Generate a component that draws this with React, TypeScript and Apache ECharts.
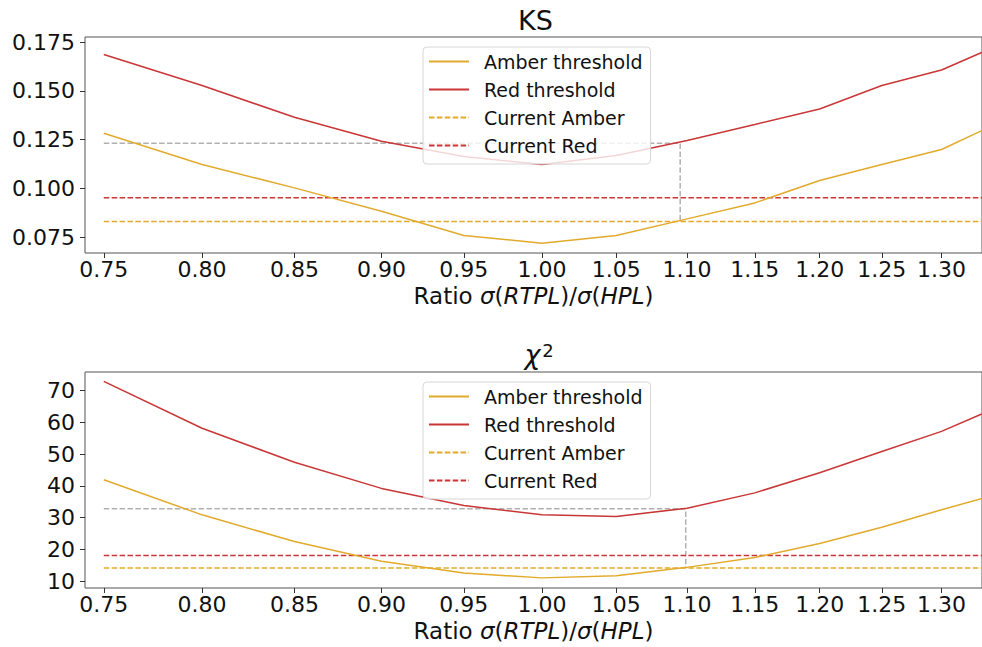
import React, { useEffect, useRef } from "react";
import * as echarts from "echarts";

// ---- data ----
const ratios = [0.75, 0.8, 0.85, 0.9, 0.95, 1.0, 1.05, 1.1, 1.15, 1.2, 1.25, 1.3, 1.35];

const ksAmber = [0.1282, 0.1122, 0.1002, 0.0882, 0.0758, 0.0718, 0.0758, 0.0843, 0.0925, 0.104, 0.1122, 0.1199, 0.1337];
const ksRed = [0.1686, 0.1527, 0.1364, 0.1241, 0.1163, 0.1122, 0.1168, 0.1245, 0.1327, 0.1407, 0.1527, 0.1607, 0.1735];
const ksCurrentAmber = 0.083;
const ksCurrentRed = 0.0951;
const ksGuideX = [0.75, 1.095, 1.095];
const ksGuideY = [0.1231, 0.1231, 0.083];

const chiAmber = [41.9, 30.9, 22.5, 16.3, 12.6, 11.1, 11.8, 14.4, 17.5, 21.9, 27.0, 32.5, 37.5];
const chiRed = [72.8, 58.1, 47.4, 39.2, 33.8, 30.9, 30.4, 33.0, 37.8, 44.1, 50.8, 57.1, 64.9];
const chiCurrentAmber = 14.2;
const chiCurrentRed = 18.1;
const chiGuideX = [0.75, 1.099, 1.099];
const chiGuideY = [32.8, 32.8, 14.2];

const xTicks = [0.75, 0.8, 0.85, 0.9, 0.95, 1.0, 1.05, 1.1, 1.15, 1.2, 1.25, 1.3];
const ksTicks = [0.075, 0.1, 0.125, 0.15, 0.175];
const chiTicks = [10, 20, 30, 40, 50, 60, 70];
const xRange = [0.7408, 1.335];
const ksRange = [0.0668, 0.1776];
const chiRange = [7.92, 75.76];

const legendNames = ["Amber threshold", "Red threshold", "Current Amber", "Current Red"];

// ---- styles ----
const FONT = "DejaVu Sans";
const TXT = "#111";
const AMBER = "#E2AA2C";
const RED = "#C93636";
const GUIDE = "#B0B0B0";
const DASH = [5.5, 2.4];

const toPts = (xs: number[], ys: number[]) => xs.map((x, i) => [Math.log(x), ys[i]]);

const axisNameRich = {
  n: { fontSize: 23, fontFamily: FONT, color: TXT },
  i: { fontSize: 23, fontFamily: FONT, color: TXT, fontStyle: "italic" },
};

function makeXAxis(gridIndex: number) {
  const tv = xTicks.map((t) => Math.log(t));
  return {
    type: "value",
    gridIndex,
    min: Math.log(xRange[0]),
    max: Math.log(xRange[1]),
    axisLine: { show: false, onZero: false },
    axisTick: { show: true, customValues: tv, length: 5, lineStyle: { color: "#333", width: 1 } },
    axisLabel: {
      show: true,
      customValues: tv,
      formatter: (v: number) => Math.exp(v).toFixed(2),
      fontSize: 22,
      fontFamily: FONT,
      color: TXT,
      margin: 5,
    },
    splitLine: { show: false },
    name: "{n|Ratio }{i|σ}{n|(}{i|RTPL}{n|)/}{i|σ}{n|(}{i|HPL}{n|)}",
    nameLocation: "middle",
    nameGap: 31,
    nameTextStyle: { fontSize: 23, fontFamily: FONT, color: TXT, rich: axisNameRich },
  };
}

function makeYAxis(gridIndex: number, range: number[], ticks: number[], digits: number) {
  return {
    type: "value",
    gridIndex,
    min: range[0],
    max: range[1],
    axisLine: { show: false, onZero: false },
    axisTick: { show: true, customValues: ticks, length: 5, lineStyle: { color: "#333", width: 1 } },
    axisLabel: {
      show: true,
      customValues: ticks,
      formatter: (v: number) => v.toFixed(digits),
      fontSize: 22,
      fontFamily: FONT,
      color: TXT,
      margin: 10,
    },
    splitLine: { show: false },
  };
}

function makeSeries(
  k: number,
  amber: number[],
  red: number[],
  curA: number,
  curR: number,
  gx: number[],
  gy: number[]
) {
  const base = {
    type: "line",
    xAxisIndex: k,
    yAxisIndex: k,
    symbol: "none",
    showSymbol: false,
    silent: true,
    animation: false,
    clip: true,
  };
  const ends = [ratios[0], ratios[ratios.length - 1]];
  return [
    { ...base, name: "guide" + k, data: toPts(gx, gy), color: GUIDE, lineStyle: { color: GUIDE, width: 1.5, type: DASH }, z: 1 },
    { ...base, name: "Amber threshold", data: toPts(ratios, amber), color: AMBER, lineStyle: { color: AMBER, width: 1.5 }, z: 3 },
    { ...base, name: "Red threshold", data: toPts(ratios, red), color: RED, lineStyle: { color: RED, width: 1.5 }, z: 3 },
    { ...base, name: "Current Amber", data: toPts(ends, [curA, curA]), color: AMBER, lineStyle: { color: AMBER, width: 1.5, type: DASH }, z: 2 },
    { ...base, name: "Current Red", data: toPts(ends, [curR, curR]), color: RED, lineStyle: { color: RED, width: 1.5, type: DASH }, z: 2 },
  ];
}

function makeLegend(top: number) {
  return {
    data: legendNames,
    orient: "vertical",
    left: 423,
    top,
    itemWidth: 40,
    itemHeight: 18,
    itemGap: 9,
    padding: [5, 8, 9, 5],
    backgroundColor: "rgba(255,255,255,0.8)",
    borderColor: "#d6d6d6",
    borderWidth: 1,
    borderRadius: 4,
    selectedMode: false,
    itemStyle: { opacity: 0 },
    textStyle: { fontSize: 19, fontFamily: FONT, color: TXT, padding: [0, 0, 0, 10] },
    z: 10,
  };
}

const gridStyle = { show: true, borderColor: "#555", borderWidth: 1, backgroundColor: "transparent" };

const option = {
  animation: false,
  backgroundColor: "#fff",
  grid: [
    { left: 85, top: 37, right: -7, height: 216, ...gridStyle },
    { left: 85, top: 372, right: -7, height: 216, ...gridStyle },
  ],
  xAxis: [makeXAxis(0), makeXAxis(1)],
  yAxis: [makeYAxis(0, ksRange, ksTicks, 3), makeYAxis(1, chiRange, chiTicks, 0)],
  legend: [makeLegend(47), makeLegend(382)],
  series: [
    ...makeSeries(0, ksAmber, ksRed, ksCurrentAmber, ksCurrentRed, ksGuideX, ksGuideY),
    ...makeSeries(1, chiAmber, chiRed, chiCurrentAmber, chiCurrentRed, chiGuideX, chiGuideY),
  ],
  graphic: [
    {
      type: "text",
      x: 535.5,
      y: 20,
      style: { text: "KS", fontSize: 27, fontFamily: FONT, fill: TXT, align: "center", verticalAlign: "middle" },
    },
    {
      type: "text",
      x: 532.5,
      y: 354,
      style: { text: "χ", fontSize: 27, fontStyle: "italic", fontFamily: FONT, fill: TXT, align: "center", verticalAlign: "middle" },
    },
    {
      type: "text",
      x: 548,
      y: 350.5,
      style: { text: "2", fontSize: 18, fontFamily: FONT, fill: TXT, align: "center", verticalAlign: "middle" },
    },
  ],
};

export default function App() {
  const ref = useRef<HTMLDivElement>(null);
  useEffect(() => {
    if (!ref.current) return;
    const chart = echarts.init(ref.current, null, { renderer: "svg" });
    chart.setOption(option as any);
    return () => chart.dispose();
  }, []);
  return (
    <div
      ref={ref}
      style={{ position: "absolute", left: 0, top: 0, width: 982, height: 647, background: "#fff" }}
    />
  );
}
